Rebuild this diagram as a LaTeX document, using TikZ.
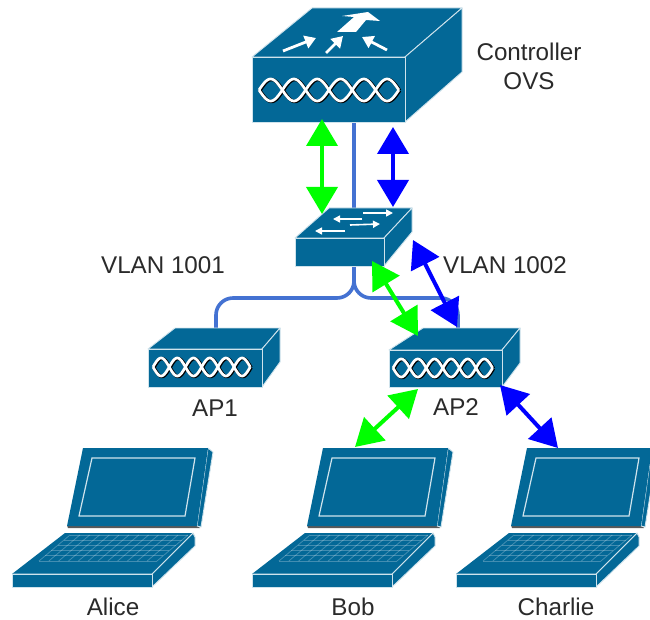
\documentclass[tikz,border=0pt]{standalone}
\usepackage{fontspec}
\setmainfont{Liberation Sans}
\usetikzlibrary{arrows.meta}
\definecolor{cisco}{HTML}{036897}
\definecolor{edgec}{HTML}{CFE3EC}
\definecolor{wire}{HTML}{4472D2}
\definecolor{lbl}{HTML}{2A2A2A}
\tikzset{
  face/.style={fill=cisco,draw=edgec,line width=0.9pt,line join=round},
  flatface/.style={fill=cisco,draw=none},
  wireline/.style={draw=wire,line width=3.6pt,rounded corners=17pt},
  duplex/.style={line width=4pt,{Triangle[length=27pt,width=31pt]}-{Triangle[length=27pt,width=31pt]}},
  greenlink/.style={duplex,draw=green,color=green},
  bluelink/.style={duplex,draw=blue,color=blue},
  lab/.style={font=\fontsize{24.2}{28}\selectfont,text=lbl,inner sep=0pt},
  topmark/.style={draw=white,line width=2.8pt,-{Triangle[length=11pt,width=13pt]},color=white},
  swmark/.style={draw=white,line width=1.6pt,-{Triangle[length=7pt,width=7pt]},color=white},
}
% x1 x2 y1 y2 backleft backright backtop rightlow
\newcommand{\devbox}[8]{%
  \draw[face] (#1,#3) -- (#5,#7) -- (#6,#7) -- (#2,#3) -- cycle;
  \draw[face] (#2,#3) -- (#6,#7) -- (#6,#8) -- (#2,#4) -- cycle;
  \draw[face] (#1,#3) rectangle (#2,#4);
}
% x0 lobewidth ycentre amp
\newcommand{\helix}[4]{%
  \foreach \ph/\ln/\col/\dx in {0/3.4/black/0.9,180/3.4/black/0.9,0/2.7/white/0,180/2.7/white/0}{%
    \draw[draw=\col,line width=\ln pt,line join=round]
      plot[domain=0:1080,samples=121,smooth] ({#1+\dx+\x/180*#2},{#3+\dx*0.6+#4*sin(\x+\ph)});
  }%
}
% horizontal offset of a laptop
\newcommand{\laptop}[1]{%
  \begin{scope}[xshift=#1pt]
    \fill[gray!70!black] (67,525) -- (197,525) -- (200,528) -- (68,528) -- cycle;
    \draw[face] (197,526) -- (208,448) -- (213,452) -- (201,527) -- cycle;
    \draw[flatface] (83,448) -- (208,448) -- (197,526) -- (67,526) -- cycle;
    \draw[draw=edgec,line width=1.2pt] (92,458) -- (195,458) -- (185,516) -- (79,516) -- cycle;
    \draw[face] (152,574) -- (193,533) -- (195,537) -- (195,546) -- (152,587) -- cycle;
    \draw[flatface] (65,533) -- (193,533) -- (152,574) -- (12,574) -- cycle;
    \draw[face] (12,574) rectangle (152,587);
    \draw[edgec,line width=1pt] (12,574) -- (152,574) -- (193,533);
    \foreach \t in {0,0.2,0.4,0.6,0.8,1}{%
      \draw[white,opacity=.25,line width=.8pt] ({70-\t*31},{535+\t*26}) -- ({188-\t*31},{535+\t*26});
    }
    \foreach \t in {0,0.0833,...,1.01}{%
      \draw[white,opacity=.25,line width=.8pt] ({70+\t*118},535) -- ({39+\t*118},561);
    }
  \end{scope}%
}
\begin{document}
\begin{tikzpicture}[x=1pt,y=-1pt]
\clip (0,0) rectangle (650,620);
\fill[white] (0,0) rectangle (650,620);

% connector end points
\coordinate (ctrlBottom) at (354,122);
\coordinate (swTop) at (354,209);
\coordinate (swBottom) at (354,265);
\coordinate (wireJoint) at (354,298);
\coordinate (ap1Top) at (216,329);
\coordinate (ap2Top) at (458,329);
\coordinate (ctrlG) at (322,119);
\coordinate (swG) at (322,214);
\coordinate (ctrlB) at (393,127);
\coordinate (swB) at (393,207);
\coordinate (swSideG) at (372,261);
\coordinate (ap2TopG) at (418,336);
\coordinate (swSideB) at (413,240);
\coordinate (ap2TopB) at (457,327);
\coordinate (ap2BotG) at (418,389);
\coordinate (bobG) at (355,447);
\coordinate (ap2BotB) at (500,385);
\coordinate (charlieB) at (558,448);

% wires
\draw[wireline] (ctrlBottom) -- (swTop);
\draw[wireline] (swBottom) |- (wireJoint) -| (ap1Top);
\draw[wireline] (swBottom) |- (wireJoint) -| (ap2Top);

% controller
\devbox{252}{405}{57}{122}{312}{462}{8}{72}
\helix{259}{23.3}{90}{11}
\fill[white] (337,32) -- (354,17) -- (342,16) -- (368,12) -- (380,21) -- (366,20) -- (356,32) -- cycle;
\draw[topmark] (283,51) -- (316,38);
\draw[topmark] (326,53) -- (343,36);
\draw[topmark] (387,50) -- (362,37);

% switch
\devbox{295}{384}{238}{266}{329}{412}{208}{232}
\draw[swmark] (363,213) -- (393,213);
\draw[swmark] (362,219) -- (333,219);
\draw[swmark] (350,225) -- (380,224);
\draw[swmark] (345,231) -- (315,231);

% access points
\devbox{148}{262}{349}{387}{175}{280}{328}{362}
\helix{153}{16.2}{367}{9}
\devbox{389}{502}{350}{387}{423}{520}{328}{363}
\helix{393}{16.6}{368}{9}

% laptops
\laptop{0}
\laptop{240}
\laptop{444}

% arrows
\draw[greenlink] (ctrlG) -- (swG);
\draw[bluelink] (ctrlB) -- (swB);
\draw[greenlink] (swSideG) -- (ap2TopG);
\draw[bluelink] (swSideB) -- (ap2TopB);
\draw[greenlink] (ap2BotG) -- (bobG);
\draw[bluelink] (ap2BotB) -- (charlieB);

% labels
\node[lab,align=center] (ctrlLabel) at (529,66) {Controller\\[1pt]OVS};
\node[lab] (vlanA) at (163,265) {VLAN 1001};
\node[lab] (vlanB) at (505,265) {VLAN 1002};
\node[lab] (ap1Label) at (215,408) {AP1};
\node[lab] (ap2Label) at (456,407) {AP2};
\node[lab] (aliceLabel) at (113,607) {Alice};
\node[lab] (bobLabel) at (353,607) {Bob};
\node[lab] (charlieLabel) at (556,607) {Charlie};
\end{tikzpicture}
\end{document}
